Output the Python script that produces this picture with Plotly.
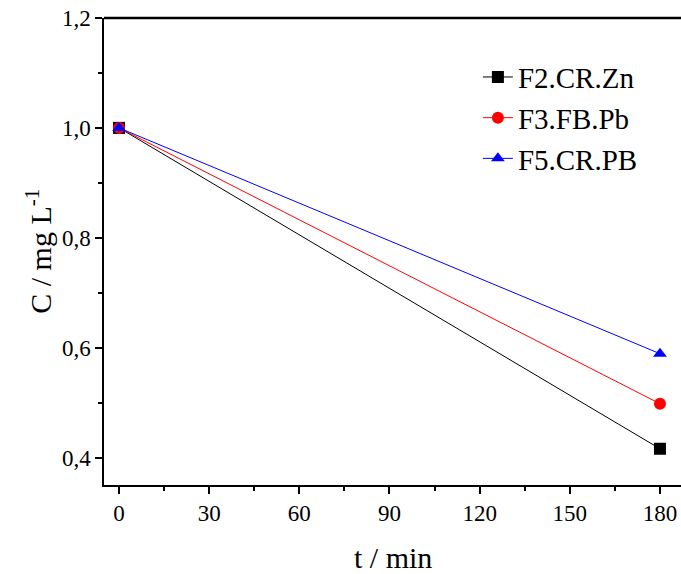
import plotly.graph_objects as go

t_min = [0, 180]
zn = [1.0, 0.416]
pb_fb = [1.0, 0.498]
pb_cr = [1.0, 0.589]
names = ["F2.CR.Zn", "F3.FB.Pb", "F5.CR.PB"]
colors = ["#000000", "#FF0000", "#0000FF"]
symbols = ["square", "circle", "triangle-up"]
series = [zn, pb_fb, pb_cr]

fig = go.Figure()
for name, y, c, s in zip(names, series, colors, symbols):
    fig.add_trace(go.Scatter(
        x=t_min, y=y, name=name, mode="lines+markers",
        line=dict(color=c, width=1),
        marker=dict(symbol=s, size=12, color=c),
    ))

font = "Liberation Serif"
tickfont = dict(family=font, size=23, color="black")
fig.update_layout(
    width=681, height=574,
    margin=dict(l=104, r=0, t=18, b=89, autoexpand=False),
    paper_bgcolor="white", plot_bgcolor="white",
    separators=", ",
    font=dict(family=font, size=23, color="black"),
    showlegend=True,
    legend=dict(x=0.648, y=0.928, xanchor="left", yanchor="top",
                bgcolor="rgba(0,0,0,0)", font=dict(size=29, family=font), tracegroupgap=0),
)
fig.update_xaxes(
    range=[-5, 187], tickvals=[0, 30, 60, 90, 120, 150, 180], tickfont=tickfont,
    ticks="outside", ticklen=7, tickwidth=1.5, tickcolor="black",
    minor=dict(dtick=15, tick0=0, ticks="outside", ticklen=4, tickwidth=1.5, tickcolor="black"),
    showline=True, linecolor="black", linewidth=1.5, mirror=False,
    showgrid=False, zeroline=False, automargin=False, ticklabeloverflow="allow",
)
fig.update_yaxes(
    range=[0.35, 1.2], tickvals=[0.4, 0.6, 0.8, 1.0, 1.2], tickformat=".1f", tickfont=tickfont,
    ticks="outside", ticklen=7, tickwidth=1.5, tickcolor="black",
    minor=dict(dtick=0.1, tick0=0.4, ticks="outside", ticklen=4, tickwidth=1.5, tickcolor="black"),
    showline=True, linecolor="black", linewidth=1.5,
    showgrid=False, zeroline=False, automargin=False, ticklabeloverflow="allow",
)
fig.add_annotation(text="t / min", xref="paper", yref="paper", x=0.5, y=-0.155,
                   xanchor="center", yanchor="middle", showarrow=False,
                   font=dict(size=30, family=font))
fig.add_annotation(text="C / mg L<sup>-1</sup>", xref="paper", yref="paper", x=-0.114, y=0.5,
                   xanchor="center", yanchor="middle", showarrow=False, textangle=-90,
                   font=dict(size=30, family=font))
fig.add_shape(type="line", xref="paper", yref="paper", x0=0, x1=1, y0=1, y1=1,
              line=dict(color="black", width=2.5))
fig.write_html("out.html", config={"displayModeBar": False},
               post_script="document.body.style.margin='0';")
